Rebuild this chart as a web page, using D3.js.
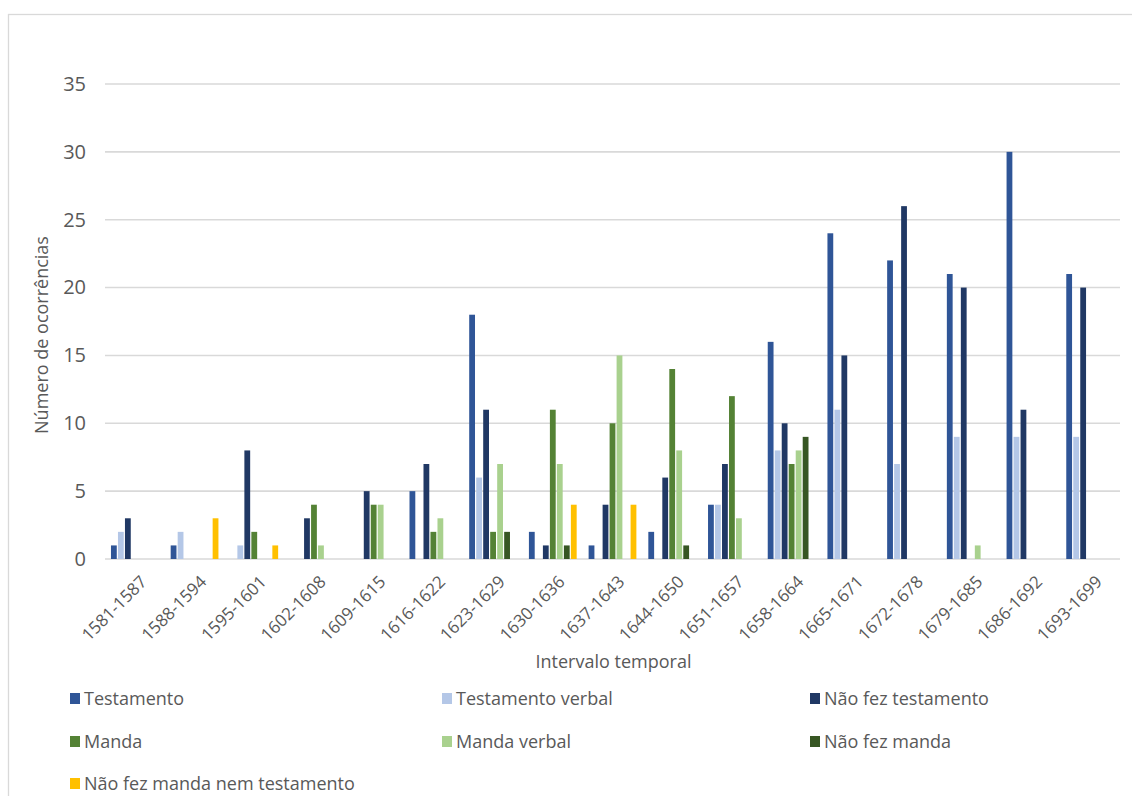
<!DOCTYPE html>
<html>
<head>
<meta charset="utf-8">
<script src="https://cdn.jsdelivr.net/npm/d3@7"></script>
<style>
  html, body { margin: 0; padding: 0; background: #fff; }
  svg { display: block; font-family: "Open Sans", "Noto Sans", sans-serif; }
</style>
</head>
<body>
<svg id="chart" width="1132" height="796"></svg>
<script>
// Time intervals (x categories)
const intervals = ["1581-1587","1588-1594","1595-1601","1602-1608","1609-1615","1616-1622",
  "1623-1629","1630-1636","1637-1643","1644-1650","1651-1657","1658-1664","1665-1671",
  "1672-1678","1679-1685","1686-1692","1693-1699"];

// Series names
const seriesNames = ["Testamento","Testamento verbal","Não fez testamento","Manda",
  "Manda verbal","Não fez manda","Não fez manda nem testamento"];

// Counts per interval, one array per series
const testamento       = [1,1,0,0,0,5,18,2,1,2,4,16,24,22,21,30,21];
const testamentoVerbal = [2,2,1,0,0,0,6,0,0,0,4,8,11,7,9,9,9];
const naoFezTestamento = [3,0,8,3,5,7,11,1,4,6,7,10,15,26,20,11,20];
const manda            = [0,0,2,4,4,2,2,11,10,14,12,7,0,0,0,0,0];
const mandaVerbal      = [0,0,0,1,4,3,7,7,15,8,3,8,0,0,1,0,0];
const naoFezManda      = [0,0,0,0,0,0,2,1,0,1,0,9,0,0,0,0,0];
const naoFezNenhum     = [0,3,1,0,0,0,0,4,4,0,0,0,0,0,0,0,0];

const yTicks = [0,5,10,15,20,25,30,35];

const seriesValues = [testamento, testamentoVerbal, naoFezTestamento, manda,
  mandaVerbal, naoFezManda, naoFezNenhum];
const colors = ["#2F5597","#B4C7E7","#203864","#548235","#A9D18E","#375623","#FFC000"];

const svg = d3.select("#chart");
const textColor = "#595959";
const gridColor = "#D9D9D9";

// Outer chart frame
svg.append("rect")
  .attr("x", 8.5).attr("y", 14.5)
  .attr("width", 1130).attr("height", 800)
  .attr("fill", "none").attr("stroke", gridColor).attr("stroke-width", 1.3);

const plot = { left: 105, right: 1120, top: 84, bottom: 559 };

const x0 = d3.scaleBand().domain(intervals).range([plot.left, plot.right]).padding(0);
const inset = x0.bandwidth() * 0.09;
const x1 = d3.scaleBand().domain(seriesNames).range([inset, x0.bandwidth() - inset]).padding(0);
const y = d3.scaleLinear().domain([0, 35]).range([plot.bottom, plot.top]);

// Horizontal gridlines
svg.append("g")
  .selectAll("line")
  .data(yTicks)
  .join("line")
  .attr("x1", plot.left).attr("x2", plot.right)
  .attr("y1", d => y(d)).attr("y2", d => y(d))
  .attr("stroke", gridColor).attr("stroke-width", 1.6);

// Y axis labels
const yAxis = d3.axisLeft(y).tickValues(yTicks).tickSize(0).tickPadding(0);
const yg = svg.append("g").attr("transform", `translate(86,0)`).call(yAxis);
yg.select(".domain").remove();
yg.selectAll("text")
  .attr("fill", textColor)
  .style("font-size", "20px")
  .style("font-family", "'Open Sans', sans-serif");

// Bars
const rows = intervals.map((c, i) => ({ cat: c, vals: seriesValues.map((s, j) => ({ name: seriesNames[j], v: s[i], color: colors[j] })) }));
svg.append("g")
  .selectAll("g")
  .data(rows)
  .join("g")
  .attr("transform", d => `translate(${x0(d.cat)},0)`)
  .selectAll("rect")
  .data(d => d.vals.filter(e => e.v > 0))
  .join("rect")
  .attr("x", d => x1(d.name) + 0.6)
  .attr("width", x1.bandwidth() - 1.2)
  .attr("y", d => y(d.v))
  .attr("height", d => y(0) - y(d.v))
  .attr("fill", d => d.color);

// X axis labels (rotated)
const xAxis = d3.axisBottom(x0).tickSize(0).tickPadding(0);
const xg = svg.append("g").attr("transform", `translate(0,${plot.bottom})`).call(xAxis);
xg.select(".domain").remove();
xg.selectAll("text")
  .attr("fill", textColor)
  .style("font-size", "17px")
  .style("font-family", "'Open Sans', sans-serif")
  .attr("text-anchor", "end")
  .attr("dy", 0)
  .attr("transform", "translate(13,24) rotate(-45)");

// Axis titles
svg.append("text")
  .attr("x", (plot.left + plot.right) / 2 + 1).attr("y", 668)
  .attr("text-anchor", "middle")
  .attr("fill", textColor)
  .style("font-size", "18px")
  .text("Intervalo temporal");

svg.append("text")
  .attr("transform", `translate(48,335) rotate(-90)`)
  .attr("text-anchor", "middle")
  .attr("fill", textColor)
  .style("font-size", "18px")
  .text("Número de ocorrências");

// Legend: three columns
const legendCols = [70, 442, 810];
const legendRows = [699, 742, 784];
const lg = svg.append("g")
  .selectAll("g")
  .data(seriesNames)
  .join("g")
  .attr("transform", (d, i) => `translate(${legendCols[i % 3]},${legendRows[Math.floor(i / 3)]})`);
lg.append("rect")
  .attr("x", 0).attr("y", -6)
  .attr("width", 10).attr("height", 11)
  .attr("fill", (d, i) => colors[i]);
lg.append("text")
  .attr("x", 14).attr("y", 0)
  .attr("dy", "0.35em")
  .attr("fill", textColor)
  .style("font-size", "18px")
  .text(d => d);
</script>
</body>
</html>
